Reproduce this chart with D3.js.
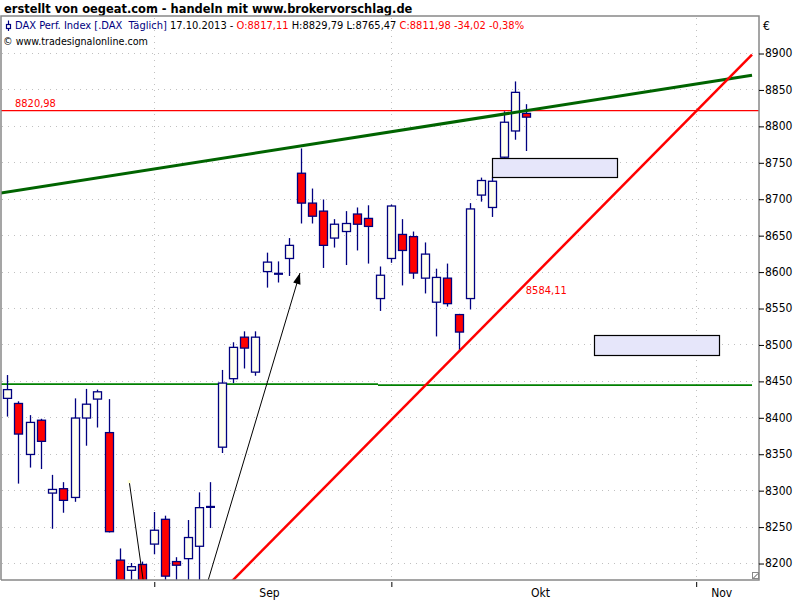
<!DOCTYPE html>
<html><head><meta charset="utf-8">
<script src="https://cdn.jsdelivr.net/npm/d3@7"></script>
<style>body{margin:0;background:#fff;}svg{display:block;}text{white-space:pre;}</style>
</head><body><svg id="c" width="800" height="600"></svg>
<script>
// ---- data ----
const dates = ["14.08","15.08","16.08","19.08","20.08","21.08","22.08","23.08","26.08","27.08","28.08","29.08","30.08",
 "02.09","03.09","04.09","05.09","06.09","09.09","10.09","11.09","12.09","13.09","16.09","17.09","18.09","19.09","20.09","23.09","24.09","25.09","26.09","27.09","30.09",
 "01.10","02.10","03.10","04.10","07.10","08.10","09.10","10.10","11.10","14.10","15.10","16.10","17.10"];
const opens  = [8426,8419,8349,8396,8296,8302,8290,8399,8425,8379,8204,8190,8198,
 8226,8260,8202,8206,8223,8277,8359,8453,8510,8462,8600,8597,8618,8735,8694,8683,8646,8655,8679,8673,8563,
 8618,8651,8648,8591,8558,8591,8541,8563,8705,8688,8757,8793,8817.11];
const highs  = [8458,8422,8403,8398,8321,8311,8426,8439,8438,8425,8220,8200,8202,
 8270,8265,8208,8259,8297,8311,8465,8503,8518,8518,8626,8614,8646,8769,8714,8699,8672,8683,8688,8691,8607,
 8692,8672,8655,8640,8604,8611,8542,8694,8729,8729.5,8820,8861,8829.79];
const lows   = [8401,8309,8331,8329,8247,8269,8284,8361,8386,8242,8125,8140,8090,
 8212,8165,8160,8160,8165,8248,8351,8447,8467,8457,8578,8585,8594,8666,8666,8605,8633,8609,8629,8611,8546,
 8612,8581,8590,8570,8511,8552,8490,8548,8696,8675,8756,8781,8765.47];
const closes = [8438,8377,8393,8367,8301,8286,8399,8418,8435,8243,8157,8195,8103,
 8245,8182,8197,8235,8276,8277,8447,8496,8495,8510,8613,8597,8636,8694,8676,8636,8665,8666,8665,8662,8595,
 8690,8629,8598,8624,8592,8556,8517,8686,8725,8724,8805,8846,8811.98];
const yTicks = [8200,8250,8300,8350,8400,8450,8500,8550,8600,8650,8700,8750,8800,8850,8900];
const monthNames  = ["Sep","Okt","Nov"];
const monthStarts = [13,34,61];          // bar index of first trading day of month
const resistLevel = 8820.98;
const supportSegs = [[[-0.6,8445.5],[32.86,8445.5]],[[32.86,8444.2],[65.99,8444.2]]];
const greenTrend  = [[-0.62,8707.7],[65.99,8869.6]];
const redTrendPts = [[40,8490],[46,8584.11]];
const redTrendSpan = [19,65.99];
const boxes = [{i0:42.98,i1:54.06,top:8755.5,bottom:8729.4},{i0:52.02,i1:63.09,top:8512.5,bottom:8485.1}];
const arrowLine = [[17.6,8165],[25.95,8598]];
const thinLine  = [[10.83,8311.6],[12.31,8149]];
const title = "erstellt von oegeat.com - handeln mit www.brokervorschlag.de";
const credit = "\u00A9 www.tradesignalonline.com";

// ---- layout ----
const plot = {l:1,r:759,t:16,b:580};
const F = "'DejaVu Sans Condensed','DejaVu Sans',sans-serif";
const svg = d3.select("#c");
const x = d3.scaleLinear().domain([-0.5314,66.608]).range([plot.l,plot.r]);
const y = d3.scaleLinear().domain([8176.7,8950.8]).range([plot.b,plot.t]);
const fmt = v => d3.format(".2f")(v).replace("\u2212","-").replace(".",",");
const px = v => Math.round(v)+0.5;

svg.append("rect").attr("width",800).attr("height",600).attr("fill","#fff");
svg.append("defs").append("clipPath").attr("id","pc").append("rect")
  .attr("x",plot.l).attr("y",plot.t).attr("width",plot.r-plot.l).attr("height",plot.b-plot.t);

// gridlines
const grid = svg.append("g").attr("stroke","#c0c0c0").attr("stroke-dasharray","1,5");
grid.selectAll("line.h").data(yTicks).join("line").attr("class","h")
  .attr("x1",plot.l+1).attr("x2",plot.r).attr("y1",d=>px(y(d))).attr("y2",d=>px(y(d)));
grid.selectAll("line.v").data(monthStarts).join("line").attr("class","v")
  .attr("x1",d=>px(x(d))).attr("x2",d=>px(x(d))).attr("y1",plot.t+2).attr("y2",plot.b);

// title
const tt = svg.append("text").attr("x",4).attr("y",13).style("font-family",F).style("font-weight","bold")
  .style("font-size","15px").attr("fill","#000").text(title);
function fit(t,w){const c=t.node().getComputedTextLength();const fs=parseFloat(t.style("font-size"));t.style("font-size",(fs*w/c)+"px");}
fit(tt,409);

// header info
const last = opens.length-1;
const chg = closes[last]-closes[last-1];
const pct = chg/closes[last-1]*100;
const hg = svg.append("g");
hg.append("line").attr("x1",8.5).attr("x2",8.5).attr("y1",20.5).attr("y2",31).attr("stroke","#000080").attr("stroke-width",1.2);
hg.append("rect").attr("x",6.5).attr("y",24.5).attr("width",4).attr("height",4).attr("fill","#fff").attr("stroke","#000080").attr("stroke-width",1.2);
const ht = hg.append("text").attr("x",15).attr("y",29).style("font-family",F).style("font-size","11px");
[["DAX Perf. Index [.DAX  T\u00E4glich] ","#000080"],[dates[last]+".2013 - ","#000"],
 ["O:"+fmt(opens[last])+" ","#ff0000"],["H:"+fmt(highs[last])+" L:"+fmt(lows[last])+" ","#000"],
 ["C:"+fmt(closes[last])+" "+fmt(chg)+" "+fmt(pct)+"%","#ff0000"]]
 .forEach(([s,c])=>ht.append("tspan").attr("fill",c).text(s));
fit(ht,510);
const ct = svg.append("text").attr("x",3).attr("y",45).style("font-family",F).style("font-size","11px").attr("fill","#000").text(credit);
fit(ct,145);

const g = svg.append("g").attr("clip-path","url(#pc)");
const line = d3.line().x(d=>x(d[0])).y(d=>y(d[1]));

// support (green horizontal) and resistance (red horizontal)
supportSegs.forEach(s=>g.append("path").attr("d",line(s)).attr("stroke","#008000").attr("stroke-width",1.6).attr("fill","none"));
g.append("line").attr("x1",plot.l).attr("x2",plot.r).attr("y1",y(resistLevel)).attr("y2",y(resistLevel))
  .attr("stroke","#ff0000").attr("stroke-width",1.3);

// candles
const idx = d3.range(opens.length);
const cg = g.append("g");
cg.selectAll("line.w").data(idx).join("line").attr("class","w")
  .attr("x1",i=>px(x(i))).attr("x2",i=>px(x(i))).attr("y1",i=>y(highs[i])).attr("y2",i=>y(lows[i]))
  .attr("stroke","#000080").attr("stroke-width",1.3);
const bodies = idx.filter(i=>Math.abs(opens[i]-closes[i])>=1.5);
const dojis = idx.filter(i=>Math.abs(opens[i]-closes[i])<1.5);
cg.selectAll("rect.b").data(bodies).join("rect").attr("class","b")
  .attr("x",i=>Math.round(x(i))-3.5).attr("width",8)
  .attr("y",i=>y(Math.max(opens[i],closes[i]))).attr("height",i=>y(Math.min(opens[i],closes[i]))-y(Math.max(opens[i],closes[i])))
  .attr("fill",i=>closes[i]>=opens[i]?"#fffff0":"#ff0000").attr("stroke","#000080").attr("stroke-width",1.3);
cg.selectAll("line.d").data(dojis).join("line").attr("class","d")
  .attr("x1",i=>Math.round(x(i))-4).attr("x2",i=>Math.round(x(i))+5)
  .attr("y1",i=>y((opens[i]+closes[i])/2)).attr("y2",i=>y((opens[i]+closes[i])/2))
  .attr("stroke","#000080").attr("stroke-width",2.2);

// trend lines
g.append("path").attr("d",line(greenTrend)).attr("stroke","#006400").attr("stroke-width",3).attr("fill","none");
const slope = (redTrendPts[1][1]-redTrendPts[0][1])/(redTrendPts[1][0]-redTrendPts[0][0]);
const redAt = i => redTrendPts[1][1]+(i-redTrendPts[1][0])*slope;
g.append("path").attr("d",line(redTrendSpan.map(i=>[i,redAt(i)]))).attr("stroke","#ff0000").attr("stroke-width",2.5).attr("fill","none");

// boxes
g.selectAll("rect.box").data(boxes).join("rect").attr("class","box")
  .attr("x",d=>px(x(d.i0))).attr("width",d=>Math.round(x(d.i1)-x(d.i0)))
  .attr("y",d=>px(y(d.top))).attr("height",d=>Math.round(y(d.bottom)-y(d.top)))
  .attr("fill","#e6e6fa").attr("stroke","#000").attr("stroke-width",1.2);

// drawn lines
g.append("path").attr("d",line(thinLine)).attr("stroke","#000").attr("stroke-width",1).attr("fill","none");
g.append("rect").attr("x",x(thinLine[0][0])-1.5).attr("y",y(thinLine[0][1])-1.5).attr("width",3).attr("height",3).attr("fill","#ffffd0");
g.append("path").attr("d",line(arrowLine)).attr("stroke","#000").attr("stroke-width",1).attr("fill","none");
{
  const x0=x(arrowLine[0][0]),y0=y(arrowLine[0][1]),x1=x(arrowLine[1][0]),y1=y(arrowLine[1][1]);
  const a=Math.atan2(y1-y0,x1-x0), L=11, Wd=3.8;
  const bx=x1-L*Math.cos(a), by=y1-L*Math.sin(a);
  const nx=-Math.sin(a), ny=Math.cos(a);
  g.append("path").attr("d",`M${x1},${y1}L${bx+nx*Wd},${by+ny*Wd}L${bx-nx*Wd},${by-ny*Wd}Z`).attr("fill","#000");
}

// labels
g.append("text").attr("x",15).attr("y",y(resistLevel)-3.5).style("font-family",F).style("font-size","11px")
  .attr("fill","#ff0000").text(fmt(resistLevel));
g.append("text").attr("x",x(last)-0.5).attr("y",y(redAt(last))+11).style("font-family",F).style("font-size","11px")
  .attr("fill","#ff0000").text(fmt(redAt(last)));

// frame
const fr = svg.append("g").attr("stroke","#888").attr("stroke-width",1.5).attr("fill","none");
fr.append("path").attr("d",`M${plot.l},${plot.b}V${plot.t}H${plot.r}V${plot.b}H${plot.l}`);
// resize glyph
svg.append("rect").attr("x",752.5).attr("y",572.5).attr("width",6).attr("height",6).attr("fill","#fff").attr("stroke","#888");
svg.append("line").attr("x1",753.5).attr("y1",578).attr("x2",758).attr("y2",573.5).attr("stroke","#555");

// y axis
const ya = svg.append("g").attr("transform",`translate(${plot.r},0)`)
  .call(d3.axisRight(y).tickValues(yTicks).tickSize(5).tickPadding(1).tickFormat(d3.format("d")));
ya.select(".domain").remove();
ya.selectAll("line").attr("stroke","#000").attr("transform","translate(0,0.5)");
ya.selectAll("text").style("font-family",F).style("font-size","12px").attr("fill","#000");
svg.append("text").attr("x",763).attr("y",30).style("font-family",F).style("font-size","12px").text("\u20AC");

// x axis
const xa = svg.append("g").attr("transform",`translate(0,${plot.b+2})`)
  .call(d3.axisBottom(x).tickValues(monthStarts).tickSize(5).tickFormat(""));
xa.select(".domain").remove();
xa.selectAll("line").attr("stroke","#000").attr("transform","translate(0.5,0)");
const ends = monthStarts.map((s,k)=>k<monthStarts.length-1?monthStarts[k+1]:x.domain()[1]-0.5);
svg.selectAll("text.m").data(monthNames).join("text").attr("class","m")
  .attr("x",(d,k)=>x((monthStarts[k]+ends[k]-0.5)/2)).attr("y",597).attr("text-anchor","middle")
  .style("font-family",F).style("font-size","12px").text(d=>d);
</script></body></html>
